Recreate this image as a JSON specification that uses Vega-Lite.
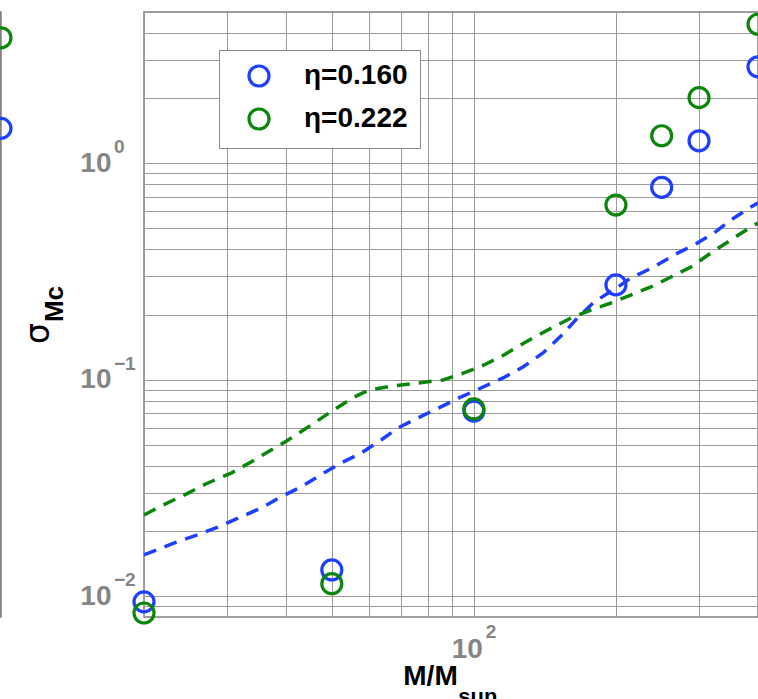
{
  "$schema": "https://vega.github.io/schema/vega-lite/v6.json",
  "padding": {"left": -17, "top": -3, "right": 0, "bottom": 0},
  "background": "white",
  "config": {
    "font": "Liberation Sans",
    "view": {"stroke": "#808080", "strokeWidth": 1.5}
  },
  "datasets": {
    "leftPoints": [
      {"M": 400, "sigma": 1.45, "eta": "η=0.160"},
      {"M": 400, "sigma": 3.8, "eta": "η=0.222"}
    ],
    "points": [
      {"M": 20, "sigma": 0.0094, "eta": "η=0.160"},
      {"M": 50, "sigma": 0.0132, "eta": "η=0.160"},
      {"M": 100, "sigma": 0.0716, "eta": "η=0.160"},
      {"M": 200, "sigma": 0.274, "eta": "η=0.160"},
      {"M": 250, "sigma": 0.774, "eta": "η=0.160"},
      {"M": 300, "sigma": 1.27, "eta": "η=0.160"},
      {"M": 400, "sigma": 2.79, "eta": "η=0.160"},
      {"M": 20, "sigma": 0.00835, "eta": "η=0.222"},
      {"M": 50, "sigma": 0.0114, "eta": "η=0.222"},
      {"M": 100, "sigma": 0.0732, "eta": "η=0.222"},
      {"M": 200, "sigma": 0.641, "eta": "η=0.222"},
      {"M": 250, "sigma": 1.34, "eta": "η=0.222"},
      {"M": 300, "sigma": 2.01, "eta": "η=0.222"},
      {"M": 400, "sigma": 4.39, "eta": "η=0.222"}
    ],
    "curves": [
      {"M": 20, "sigma": 0.0155, "eta": "η=0.160"},
      {"M": 23.2, "sigma": 0.0176, "eta": "η=0.160"},
      {"M": 26.0, "sigma": 0.0192, "eta": "η=0.160"},
      {"M": 28.8, "sigma": 0.0209, "eta": "η=0.160"},
      {"M": 32.1, "sigma": 0.0232, "eta": "η=0.160"},
      {"M": 35.4, "sigma": 0.0255, "eta": "η=0.160"},
      {"M": 39.0, "sigma": 0.0287, "eta": "η=0.160"},
      {"M": 43.0, "sigma": 0.0319, "eta": "η=0.160"},
      {"M": 47.4, "sigma": 0.0363, "eta": "η=0.160"},
      {"M": 52.3, "sigma": 0.0412, "eta": "η=0.160"},
      {"M": 57.7, "sigma": 0.0458, "eta": "η=0.160"},
      {"M": 63.6, "sigma": 0.0526, "eta": "η=0.160"},
      {"M": 69.0, "sigma": 0.0598, "eta": "η=0.160"},
      {"M": 76.1, "sigma": 0.0665, "eta": "η=0.160"},
      {"M": 84.3, "sigma": 0.074, "eta": "η=0.160"},
      {"M": 93.0, "sigma": 0.0823, "eta": "η=0.160"},
      {"M": 103.5, "sigma": 0.0915, "eta": "η=0.160"},
      {"M": 115.3, "sigma": 0.1018, "eta": "η=0.160"},
      {"M": 127.1, "sigma": 0.1144, "eta": "η=0.160"},
      {"M": 140.1, "sigma": 0.1328, "eta": "η=0.160"},
      {"M": 152.9, "sigma": 0.1589, "eta": "η=0.160"},
      {"M": 165.0, "sigma": 0.1905, "eta": "η=0.160"},
      {"M": 179.7, "sigma": 0.2284, "eta": "η=0.160"},
      {"M": 202, "sigma": 0.268, "eta": "η=0.160"},
      {"M": 215, "sigma": 0.2949, "eta": "η=0.160"},
      {"M": 240.8, "sigma": 0.3316, "eta": "η=0.160"},
      {"M": 265.5, "sigma": 0.3768, "eta": "η=0.160"},
      {"M": 292.7, "sigma": 0.419, "eta": "η=0.160"},
      {"M": 322.7, "sigma": 0.4761, "eta": "η=0.160"},
      {"M": 350.4, "sigma": 0.5467, "eta": "η=0.160"},
      {"M": 386.4, "sigma": 0.628, "eta": "η=0.160"},
      {"M": 400, "sigma": 0.655, "eta": "η=0.160"},
      {"M": 20, "sigma": 0.0237, "eta": "η=0.222"},
      {"M": 22.0, "sigma": 0.0264, "eta": "η=0.222"},
      {"M": 24.8, "sigma": 0.0299, "eta": "η=0.222"},
      {"M": 27.3, "sigma": 0.0333, "eta": "η=0.222"},
      {"M": 30.6, "sigma": 0.037, "eta": "η=0.222"},
      {"M": 33.7, "sigma": 0.0416, "eta": "η=0.222"},
      {"M": 37.2, "sigma": 0.0473, "eta": "η=0.222"},
      {"M": 40.4, "sigma": 0.0526, "eta": "η=0.222"},
      {"M": 45.2, "sigma": 0.0617, "eta": "η=0.222"},
      {"M": 50, "sigma": 0.0715, "eta": "η=0.222"},
      {"M": 54.9, "sigma": 0.0815, "eta": "η=0.222"},
      {"M": 57.7, "sigma": 0.0862, "eta": "η=0.222"},
      {"M": 60.5, "sigma": 0.0898, "eta": "η=0.222"},
      {"M": 66.7, "sigma": 0.0932, "eta": "η=0.222"},
      {"M": 76.1, "sigma": 0.0965, "eta": "η=0.222"},
      {"M": 86.0, "sigma": 0.0996, "eta": "η=0.222"},
      {"M": 95.3, "sigma": 0.1074, "eta": "η=0.222"},
      {"M": 105.1, "sigma": 0.1169, "eta": "η=0.222"},
      {"M": 115.8, "sigma": 0.13, "eta": "η=0.222"},
      {"M": 127.7, "sigma": 0.1477, "eta": "η=0.222"},
      {"M": 140.8, "sigma": 0.166, "eta": "η=0.222"},
      {"M": 160.6, "sigma": 0.1928, "eta": "η=0.222"},
      {"M": 177.0, "sigma": 0.2098, "eta": "η=0.222"},
      {"M": 195.2, "sigma": 0.226, "eta": "η=0.222"},
      {"M": 215, "sigma": 0.2461, "eta": "η=0.222"},
      {"M": 237.2, "sigma": 0.268, "eta": "η=0.222"},
      {"M": 261.6, "sigma": 0.2981, "eta": "η=0.222"},
      {"M": 288.3, "sigma": 0.3316, "eta": "η=0.222"},
      {"M": 317.9, "sigma": 0.3849, "eta": "η=0.222"},
      {"M": 350.4, "sigma": 0.442, "eta": "η=0.222"},
      {"M": 386.4, "sigma": 0.5075, "eta": "η=0.222"},
      {"M": 400, "sigma": 0.53, "eta": "η=0.222"}
    ],
    "yExponents": [
      {"sigma": 1, "exp": "0"},
      {"sigma": 0.1, "exp": "−1"},
      {"sigma": 0.01, "exp": "−2"}
    ],
    "xExponents": [
      {"M": 100, "exp": "2"}
    ]
  },
  "hconcat": [
    {
      "width": 1,
      "height": 605,
      "data": {"name": "leftPoints"},
      "mark": {"type": "point", "shape": "circle", "filled": false, "strokeWidth": 3.2, "size": 400, "opacity": 1},
      "encoding": {
        "x": {"field": "M", "type": "quantitative", "scale": {"type": "log", "domain": [20, 400], "nice": false}, "axis": null},
        "y": {"field": "sigma", "type": "quantitative", "scale": {"type": "log", "domain": [0.008, 5], "nice": false}, "axis": null},
        "color": {
          "field": "eta", "type": "nominal",
          "scale": {"domain": ["η=0.160", "η=0.222"], "range": ["#1f3fff", "#0a870a"]},
          "legend": null
        }
      }
    },
    {
      "width": 614,
      "height": 605,
      "layer": [
        {
          "data": {"name": "curves"},
          "mark": {"type": "line", "strokeDash": [13, 9], "strokeWidth": 3.5},
          "encoding": {
            "x": {
              "field": "M", "type": "quantitative",
              "scale": {"type": "log", "domain": [20, 400], "nice": false},
              "axis": {
                "values": [20, 30, 40, 50, 60, 70, 80, 90, 100, 200, 300, 400],
                "labelExpr": "datum.value == 100 ? '10' : ''",
                "labelFont": "Liberation Sans", "labelFontSize": 28, "labelFontWeight": "bold",
                "labelColor": "#858585", "labelPadding": 18, "labelOffset": -7,
                "labelFlush": false, "labelOverlap": false, "labelBaseline": "top",
                "ticks": false, "domain": false,
                "grid": true, "gridColor": "#9a9a9a", "gridWidth": 1,
                "title": "M/M", "titleFont": "Liberation Sans", "titleFontSize": 28,
                "titleFontWeight": "bold", "titleColor": "black",
                "titleX": 286, "titleY": 67, "titleAlign": "center", "titleBaseline": "alphabetic"
              }
            },
            "y": {
              "field": "sigma", "type": "quantitative",
              "scale": {"type": "log", "domain": [0.008, 5], "nice": false},
              "axis": {
                "values": [0.008, 0.009, 0.01, 0.02, 0.03, 0.04, 0.05, 0.06, 0.07, 0.08, 0.09, 0.1, 0.2, 0.3, 0.4, 0.5, 0.6, 0.7, 0.8, 0.9, 1, 2, 3, 4, 5],
                "labelExpr": "(datum.value == 1 || datum.value == 0.1 || datum.value == 0.01) ? '10' : ''",
                "labelFont": "Liberation Sans", "labelFontSize": 28, "labelFontWeight": "bold",
                "labelColor": "#858585", "labelPadding": 33, "labelBaseline": "middle",
                "labelFlush": false, "labelOverlap": false,
                "ticks": false, "domain": false,
                "grid": true, "gridColor": "#9a9a9a", "gridWidth": 1,
                "title": "σ", "titleFont": "DejaVu Sans", "titleFontSize": 33,
                "titleFontWeight": "normal", "titleColor": "black",
                "titleX": -106, "titleY": 321, "titleAngle": 270,
                "titleAlign": "center", "titleBaseline": "middle"
              }
            },
            "stroke": {
              "field": "eta", "type": "nominal",
              "scale": {"domain": ["η=0.160", "η=0.222"], "range": ["#1f3fff", "#0a870a"]},
              "legend": null
            }
          }
        },
        {
          "data": {"name": "points"},
          "mark": {"type": "point", "shape": "circle", "filled": false, "strokeWidth": 3.2, "size": 400, "opacity": 1},
          "encoding": {
            "x": {"field": "M", "type": "quantitative"},
            "y": {"field": "sigma", "type": "quantitative"},
            "color": {
              "field": "eta", "type": "nominal",
              "scale": {"domain": ["η=0.160", "η=0.222"], "range": ["#1f3fff", "#0a870a"]},
              "legend": {
                "title": null, "orient": "none", "legendX": 75, "legendY": 38,
                "fillColor": "white", "strokeColor": "#8a8a8a", "padding": 12,
                "symbolOffset": 14, "labelOffset": 31, "rowPadding": 9,
                "labelFont": "Liberation Sans", "labelFontSize": 28, "labelFontWeight": "bold",
                "labelColor": "black", "symbolStrokeWidth": 3.2, "symbolSize": 400,
                "symbolType": "circle", "symbolOpacity": 1
              }
            }
          }
        },
        {
          "data": {"name": "yExponents"},
          "mark": {"type": "text", "align": "left", "baseline": "middle", "dx": -30, "dy": -16,
                   "font": "Liberation Sans", "fontSize": 19, "fontWeight": "bold", "color": "#858585"},
          "encoding": {
            "x": {"datum": 20, "type": "quantitative"},
            "y": {"field": "sigma", "type": "quantitative"},
            "text": {"field": "exp"}
          }
        },
        {
          "data": {"name": "xExponents"},
          "mark": {"type": "text", "align": "left", "baseline": "middle", "dx": 12, "dy": 15,
                   "font": "Liberation Sans", "fontSize": 19, "fontWeight": "bold", "color": "#858585"},
          "encoding": {
            "x": {"field": "M", "type": "quantitative"},
            "y": {"datum": 0.008, "type": "quantitative"},
            "text": {"field": "exp"}
          }
        },
        {
          "data": {"values": [{"sub": "sun"}]},
          "mark": {"type": "text", "align": "center", "baseline": "alphabetic", "dx": 4, "dy": 87,
                   "font": "Liberation Sans", "fontSize": 22, "fontWeight": "bold", "color": "black"},
          "encoding": {
            "x": {"datum": 100, "type": "quantitative"},
            "y": {"datum": 0.008, "type": "quantitative"},
            "text": {"field": "sub"}
          }
        },
        {
          "data": {"values": [{"sub": "Mc"}]},
          "mark": {"type": "text", "align": "center", "baseline": "middle", "angle": 270, "dy": -89,
                   "font": "Liberation Sans", "fontSize": 26, "fontWeight": "bold", "color": "black"},
          "encoding": {
            "x": {"datum": 20, "type": "quantitative"},
            "y": {"datum": 0.2237, "type": "quantitative"},
            "text": {"field": "sub"}
          }
        }
      ]
    }
  ],
  "bounds": "flush",
  "spacing": 143,
  "resolve": {"scale": {"color": "independent", "x": "independent", "y": "independent"}, "legend": {"color": "independent"}}
}
